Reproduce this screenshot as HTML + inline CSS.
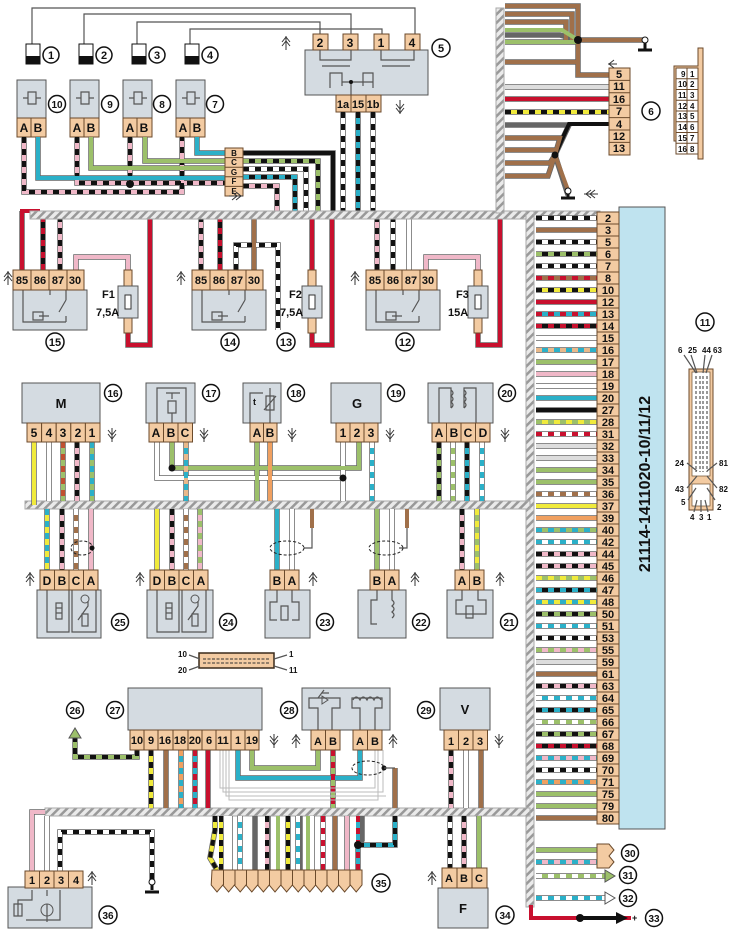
<!DOCTYPE html>
<html><head><meta charset="utf-8"><style>
html,body{margin:0;padding:0;background:#fff}
svg{display:block}
text{font-family:"Liberation Sans",sans-serif;font-weight:bold;fill:#111}
.p{fill:#f3cba2;stroke:#6b4a2b;stroke-width:1}
.bx{fill:#d4dbe1;stroke:#555;stroke-width:1}
.o{fill:none;stroke:#666;stroke-width:5.5}
.w{fill:none;stroke-width:4}
.s{fill:none;stroke-width:4;stroke-dasharray:6 6}
.t{fill:none;stroke:#555;stroke-width:1.2}
.c{fill:#fff;stroke:#111;stroke-width:1.5}
.hz{fill:url(#h);stroke:#aaa;stroke-width:1}
</style></head><body>
<svg width="739" height="932" viewBox="0 0 739 932" xmlns="http://www.w3.org/2000/svg">
<defs>
<pattern id="h" width="6" height="6" patternUnits="userSpaceOnUse" patternTransform="rotate(45)">
<rect width="6" height="6" fill="#eaeaea"/><rect width="2.5" height="6" fill="#999"/></pattern>
</defs>

<!-- top thin wires -->
<path class="t" d="M32 46V8H415V35M84 46V14H351V35M137 46V22H320V35M190 46V29H382V35"/>
<!-- items 1-4 -->
<g>
<rect x="26" y="44" width="14" height="20" fill="#fff" stroke="#111"/><rect x="26" y="56" width="14" height="8" fill="#111"/>
<rect x="79" y="44" width="14" height="20" fill="#fff" stroke="#111"/><rect x="79" y="56" width="14" height="8" fill="#111"/>
<rect x="132" y="44" width="14" height="20" fill="#fff" stroke="#111"/><rect x="132" y="56" width="14" height="8" fill="#111"/>
<rect x="185" y="44" width="14" height="20" fill="#fff" stroke="#111"/><rect x="185" y="56" width="14" height="8" fill="#111"/>
</g>
<g font-size="11">
<circle class="c" cx="51" cy="55" r="8"/><text x="51" y="59" text-anchor="middle">1</text>
<circle class="c" cx="104" cy="55" r="8"/><text x="104" y="59" text-anchor="middle">2</text>
<circle class="c" cx="157" cy="55" r="8"/><text x="157" y="59" text-anchor="middle">3</text>
<circle class="c" cx="210" cy="55" r="8"/><text x="210" y="59" text-anchor="middle">4</text>
</g>

<!-- box 5 -->
<rect class="bx" x="305" y="50" width="123" height="45"/>
<rect class="p" x="313" y="34" width="15" height="16"/><rect class="p" x="343" y="34" width="15" height="16"/>
<rect class="p" x="374" y="34" width="15" height="16"/><rect class="p" x="405" y="34" width="15" height="16"/>
<g font-size="12"><text x="320" y="47" text-anchor="middle">2</text><text x="350" y="47" text-anchor="middle">3</text><text x="381" y="47" text-anchor="middle">1</text><text x="412" y="47" text-anchor="middle">4</text></g>
<path class="t" d="M320 50v10h31V50M381 50v10h33V50M322 66h28M382 66h28M330 88V73h12v13M373 88V73h-10v13M342 82h31M351 82v13"/>
<circle cx="351" cy="82" r="2" fill="#111"/>
<rect class="p" x="336" y="95" width="15" height="17"/><rect class="p" x="351" y="95" width="15" height="17"/><rect class="p" x="366" y="95" width="15" height="17"/>
<g font-size="11"><text x="343" y="108" text-anchor="middle">1a</text><text x="358" y="108" text-anchor="middle">15</text><text x="373" y="108" text-anchor="middle">1b</text></g>
<circle class="c" cx="441" cy="48" r="9"/><text x="441" y="52" font-size="11" text-anchor="middle">5</text>

<!-- relays 10 9 8 7 -->
<g>
<rect class="bx" x="17" y="80" width="29" height="38"/><rect class="bx" x="70" y="80" width="29" height="38"/>
<rect class="bx" x="123" y="80" width="29" height="38"/><rect class="bx" x="176" y="80" width="29" height="38"/>
<path class="t" d="M23 98h5M36 98h5M28 92h8v12h-8zM76 98h5M89 98h5M81 92h8v12h-8zM129 98h5M142 98h5M134 92h8v12h-8zM182 98h5M195 98h5M187 92h8v12h-8z"/>
<rect class="p" x="17" y="118" width="14" height="19"/><rect class="p" x="31" y="118" width="15" height="19"/>
<rect class="p" x="70" y="118" width="14" height="19"/><rect class="p" x="84" y="118" width="15" height="19"/>
<rect class="p" x="123" y="118" width="14" height="19"/><rect class="p" x="137" y="118" width="15" height="19"/>
<rect class="p" x="176" y="118" width="14" height="19"/><rect class="p" x="190" y="118" width="15" height="19"/>
</g>
<g font-size="12" font-weight="normal">
<text x="24" y="132" text-anchor="middle">A</text><text x="38" y="132" text-anchor="middle">B</text>
<text x="77" y="132" text-anchor="middle">A</text><text x="91" y="132" text-anchor="middle">B</text>
<text x="130" y="132" text-anchor="middle">A</text><text x="144" y="132" text-anchor="middle">B</text>
<text x="183" y="132" text-anchor="middle">A</text><text x="197" y="132" text-anchor="middle">B</text>
</g>
<g font-size="10">
<circle class="c" cx="57" cy="104" r="8.5"/><text x="57" y="108" text-anchor="middle">10</text>
<circle class="c" cx="110" cy="104" r="8.5"/><text x="110" y="108" text-anchor="middle">9</text>
<circle class="c" cx="162" cy="104" r="8.5"/><text x="162" y="108" text-anchor="middle">8</text>
<circle class="c" cx="215" cy="104" r="8.5"/><text x="215" y="108" text-anchor="middle">7</text>
</g>

<!-- top-left wiring -->
<path class="o" d="M24 137V192H182V137M77 137V183H225M130 137V183M38 137V178H225M91 137V168H225M145 137V161H225M197 137V153H225M243 153H333V211M243 161H318V211M243 169H306V211M243 177H295V211M243 186H277V211M343 112V211M358 112V211M373 112V211"/>
<path class="w" stroke="#f0b8c8" d="M24 137V192H182V137M77 137V183H225M130 137V183M243 186H277V211"/>
<path class="s" stroke="#111" d="M24 137V192H182V137M77 137V183H225M130 137V183M243 186H277V211"/>
<path class="w" stroke="#2bb0c8" d="M38 137V178H225M197 137V153H225"/>
<path class="w" stroke="#9cc06a" d="M91 137V168H225M145 137V161H225"/>
<path class="w" stroke="#111" d="M243 153H333V211M243 161H318V211M243 177H295V211"/>
<path class="s" stroke="#9cc06a" d="M243 161H318V211"/>
<path class="s" stroke="#2bb0c8" d="M243 177H295V211"/>
<path class="w" stroke="#fff" d="M243 169H306V211M343 112V211M373 112V211"/>
<path class="s" stroke="#111" d="M243 169H306V211M343 112V211M373 112V211"/>
<path class="w" stroke="#2bb0c8" d="M358 112V211"/><path class="s" stroke="#111" d="M358 112V211"/>
<circle cx="130" cy="184" r="4" fill="#111"/>
<rect class="p" x="225" y="148" width="18" height="48"/>
<path stroke="#6b4a2b" d="M225 157.6h18M225 167.2h18M225 176.8h18M225 186.4h18"/>
<g font-size="8"><text x="234" y="156" text-anchor="middle">B</text><text x="234" y="165" text-anchor="middle">C</text><text x="234" y="175" text-anchor="middle">G</text><text x="234" y="184" text-anchor="middle">F</text><text x="234" y="194" text-anchor="middle">E</text></g>

<!-- top right area -->
<path class="o" d="M505 6H578V40M505 14H572V40M505 22H566V40M505 35H560L578 40M505 42H578M505 62H578V40M578 40H645M578 40V75H609"/>
<path class="w" stroke="#a0704a" d="M505 6H578V40M505 14H572V40M505 22H566V40M505 62H578V40M578 40H645M578 40V75H609"/>
<path class="w" stroke="#9cc06a" d="M505 30H562L578 40M505 42H578"/>
<circle cx="578" cy="40" r="4" fill="#111"/>
<path d="M645 40v10M638 50h14" stroke="#111" stroke-width="3"/><circle cx="645" cy="40" r="3" fill="#fff" stroke="#111"/>
<path class="o" d="M505 87H609M505 99H609M505 112H609M505 125H569L555 155M505 138H560L555 155M505 150H555M505 163H550L555 155M505 176H548L555 155M555 155L568 195"/>
<path class="w" stroke="#ddd" d="M505 87H609"/>
<path class="w" stroke="#c8102e" d="M505 99H609"/>
<path class="w" stroke="#f0ea3c" d="M505 112H609"/><path class="s" stroke="#111" d="M505 112H609"/>
<path class="w" stroke="#111" d="M609 124H569L555 155"/>
<path class="w" stroke="#a0704a" d="M505 138H560L555 155M505 150H555M505 163H550L555 155M505 176H548L555 155M555 155L568 190"/>
<circle cx="555" cy="155" r="3.5" fill="#111"/>
<path d="M568 190v8M561 198h14" stroke="#111" stroke-width="3"/><circle cx="568" cy="191" r="3" fill="#fff" stroke="#111"/>
<rect class="p" x="609" y="68" width="21" height="87"/>
<path stroke="#6b4a2b" d="M609 80.4h21M609 92.8h21M609 105.2h21M609 117.6h21M609 130h21M609 142.4h21"/>
<g font-size="11" font-weight="normal"><text x="619" y="78" text-anchor="middle">5</text><text x="619" y="90" text-anchor="middle">11</text><text x="619" y="103" text-anchor="middle">16</text><text x="619" y="115" text-anchor="middle">7</text><text x="619" y="128" text-anchor="middle">4</text><text x="619" y="140" text-anchor="middle">12</text><text x="619" y="152" text-anchor="middle">13</text></g>
<circle class="c" cx="651" cy="111" r="9"/><text x="651" y="115" font-size="10" text-anchor="middle">6</text>
<path d="M674 66h24v-18h5v111h-5v-18h-24z" fill="#f3cba2" stroke="#6b4a2b"/>
<rect x="676" y="68" width="22" height="86" fill="#fff" stroke="#6b4a2b"/>
<path stroke="#6b4a2b" fill="none" d="M687 68v86M676 78.7h22M676 89.5h22M676 100.2h22M676 111h22M676 121.7h22M676 132.5h22M676 143.2h22"/>
<g font-size="8" font-weight="normal"><text x="681" y="77">9</text><text x="690" y="77">1</text><text x="678" y="87">10</text><text x="690" y="87">2</text><text x="678" y="98">11</text><text x="690" y="98">3</text><text x="678" y="109">12</text><text x="690" y="109">4</text><text x="678" y="119">13</text><text x="690" y="119">5</text><text x="678" y="130">14</text><text x="690" y="130">6</text><text x="678" y="141">15</text><text x="690" y="141">7</text><text x="678" y="152">16</text><text x="690" y="152">8</text></g>

<!-- relays row wiring -->
<path class="o" d="M22 270V211M43 270V219M60 270V219M76 270V257H128V272M128 330V345H150V219M201 270V219M220 270V219M236 270V245H278V330M254 270V219M312 270V219M312 330V345H332V219M377 270V219M393 270V219M409 270V219M426 270V257H478V272M478 330V345H500V219"/>
<path class="w" stroke="#c8102e" d="M22 270V211H40M128 330V345H150V219M312 270V219M312 330V345H332V219M478 330V345H500V219"/>
<path class="w" stroke="#111" d="M43 270V219M220 270V219"/><path class="s" stroke="#c8102e" d="M43 270V219M220 270V219"/>
<path class="w" stroke="#f0b8c8" d="M60 270V219M201 270V219M377 270V219M76 270V257H128V272M426 270V257H478V272"/>
<path class="s" stroke="#111" d="M60 270V219M201 270V219M377 270V219"/>
<path class="w" stroke="#fff" d="M236 270V245H278V330M393 270V219M409 270V219"/><path class="s" stroke="#111" d="M236 270V245H278V330M393 270V219"/>
<path class="w" stroke="#a0704a" d="M254 270V219"/>

<!-- harnesses -->
<rect class="hz" x="30" y="211" width="570" height="8"/>
<rect class="hz" x="496" y="8" width="8" height="205"/>
<rect class="hz" x="526" y="211" width="8" height="696"/>
<rect class="hz" x="25" y="501" width="505" height="8"/>
<rect class="hz" x="45" y="808" width="485" height="8"/>

<!-- relays 15 14 12 -->
<g>
<rect class="bx" x="13" y="290" width="74" height="40"/><rect class="bx" x="192" y="290" width="74" height="40"/><rect class="bx" x="366" y="290" width="74" height="40"/>
<path class="t" d="M23 290v32h16M39 316h10M33 312h10v8h-10zM50 290v5M66 290v10M66 300l-7 12M66 322v-6M66 322h-27M202 290v32h16M218 316h10M212 312h10v8h-10zM229 290v5M245 290v10M245 300l-7 12M245 322v-6M245 322h-27M376 290v32h16M392 316h10M386 312h10v8h-10zM403 290v5M419 290v10M419 300l-7 12M419 322v-6M419 322h-27"/>
<rect class="p" x="13" y="270" width="18" height="20"/><rect class="p" x="31" y="270" width="18" height="20"/><rect class="p" x="49" y="270" width="18" height="20"/><rect class="p" x="67" y="270" width="17" height="20"/>
<rect class="p" x="192" y="270" width="18" height="20"/><rect class="p" x="210" y="270" width="18" height="20"/><rect class="p" x="228" y="270" width="18" height="20"/><rect class="p" x="246" y="270" width="17" height="20"/>
<rect class="p" x="366" y="270" width="18" height="20"/><rect class="p" x="384" y="270" width="18" height="20"/><rect class="p" x="402" y="270" width="18" height="20"/><rect class="p" x="420" y="270" width="17" height="20"/>
</g>
<g font-size="11" font-weight="normal">
<text x="22" y="284" text-anchor="middle">85</text><text x="40" y="284" text-anchor="middle">86</text><text x="58" y="284" text-anchor="middle">87</text><text x="75" y="284" text-anchor="middle">30</text>
<text x="201" y="284" text-anchor="middle">85</text><text x="219" y="284" text-anchor="middle">86</text><text x="237" y="284" text-anchor="middle">87</text><text x="254" y="284" text-anchor="middle">30</text>
<text x="375" y="284" text-anchor="middle">85</text><text x="393" y="284" text-anchor="middle">86</text><text x="411" y="284" text-anchor="middle">87</text><text x="428" y="284" text-anchor="middle">30</text>
</g>
<!-- fuses -->
<g>
<rect class="p" x="124" y="270" width="8" height="16"/><rect class="p" x="124" y="318" width="8" height="15"/><rect class="bx" x="118" y="286" width="20" height="32"/><rect x="125" y="295" width="6" height="14" fill="#fff" stroke="#333"/>
<rect class="p" x="308" y="270" width="8" height="16"/><rect class="p" x="308" y="318" width="8" height="15"/><rect class="bx" x="302" y="286" width="20" height="32"/><rect x="309" y="295" width="6" height="14" fill="#fff" stroke="#333"/>
<rect class="p" x="474" y="270" width="8" height="16"/><rect class="p" x="474" y="318" width="8" height="15"/><rect class="bx" x="468" y="286" width="20" height="32"/><rect x="475" y="295" width="6" height="14" fill="#fff" stroke="#333"/>
</g>
<g font-size="11" font-weight="normal">
<text x="102" y="298">F1</text><text x="96" y="316">7,5A</text>
<text x="289" y="298">F2</text><text x="280" y="316">7,5A</text>
<text x="456" y="298">F3</text><text x="448" y="316">15A</text>
</g>
<g font-size="11">
<circle class="c" cx="55" cy="342" r="9"/><text x="55" y="346" text-anchor="middle">15</text>
<circle class="c" cx="230" cy="342" r="9"/><text x="230" y="346" text-anchor="middle">14</text>
<circle class="c" cx="286" cy="342" r="9"/><text x="286" y="346" text-anchor="middle">13</text>
<circle class="c" cx="405" cy="342" r="9"/><text x="405" y="346" text-anchor="middle">12</text>
</g>

<!-- sensor row wires (above H2) -->
<path class="o" d="M34 442V505M49 442V501M63 442V501M77 442V501M92 442V501M157 442V478H343M172 442V468H359V442M186 442V501M257 442V501M270 442V501M343 442V501M372 442V501M439 442V501M453 442V501M467 442V501M482 442V501"/>
<path class="w" stroke="#f0ea3c" d="M34 442V505"/>
<path class="w" stroke="#fff" d="M49 442V501M157 442V478H343M343 442V501"/>
<path class="w" stroke="#9cc06a" d="M63 442V501M92 442V501M172 442V468H359V442M257 442V501M439 442V501M453 442V501"/>
<path class="s" stroke="#c05030" d="M63 442V501"/><path class="s" stroke="#2bb0c8" d="M92 442V501"/>
<path class="s" stroke="#111" d="M439 442V501"/><path class="s" stroke="#fff" d="M453 442V501"/>
<path class="w" stroke="#f0b8c8" d="M77 442V501"/><path class="s" stroke="#111" d="M77 442V501"/>
<path class="w" stroke="#2bb0c8" d="M186 442V501M372 442V501M467 442V501M482 442V501"/>
<path class="s" stroke="#e8b88a" d="M186 442V501"/><path class="s" stroke="#fff" d="M372 442V501M482 442V501"/><path class="s" stroke="#111" d="M467 442V501"/>
<path class="w" stroke="#f0a060" d="M270 442V501"/>
<circle cx="172" cy="468" r="3.5" fill="#111"/><circle cx="343" cy="478" r="3.5" fill="#111"/>

<!-- sensors row boxes -->
<rect class="bx" x="22" y="383" width="78" height="40"/>
<rect class="bx" x="146" y="383" width="49" height="40"/>
<rect class="bx" x="243" y="383" width="38" height="40"/>
<rect class="bx" x="331" y="383" width="50" height="40"/>
<rect class="bx" x="428" y="383" width="65" height="40"/>
<text x="61" y="408" font-size="13" text-anchor="middle">M</text>
<text x="357" y="408" font-size="13" text-anchor="middle">G</text>
<path class="t" d="M157 423V388H186V423M166 393h14M172 393v6M168 401h8v12h-8zM172 413v10"/>
<path class="t" d="M250 423V393h13M270 423V388M266 396h8v14h-8zM264 410l12-14"/>
<text x="253" y="405" font-size="9">t</text>
<path class="t" d="M439 423V388h12v20M476 423V388h-12v20M451 390q4 3 0 6q4 3 0 6q4 3 0 6M464 390q4 3 0 6q4 3 0 6q4 3 0 6"/>
<g>
<rect class="p" x="27" y="423" width="14.6" height="19"/><rect class="p" x="41.6" y="423" width="14.6" height="19"/><rect class="p" x="56.2" y="423" width="14.6" height="19"/><rect class="p" x="70.8" y="423" width="14.6" height="19"/><rect class="p" x="85.4" y="423" width="14.6" height="19"/>
<rect class="p" x="149" y="423" width="14.5" height="19"/><rect class="p" x="163.5" y="423" width="14.5" height="19"/><rect class="p" x="178" y="423" width="14.5" height="19"/>
<rect class="p" x="250" y="423" width="13.5" height="19"/><rect class="p" x="263.5" y="423" width="13.5" height="19"/>
<rect class="p" x="336" y="423" width="14" height="19"/><rect class="p" x="350" y="423" width="14" height="19"/><rect class="p" x="364" y="423" width="14" height="19"/>
<rect class="p" x="432" y="423" width="14.5" height="19"/><rect class="p" x="446.5" y="423" width="14.5" height="19"/><rect class="p" x="461" y="423" width="14.5" height="19"/><rect class="p" x="475.5" y="423" width="14.5" height="19"/>
</g>
<g font-size="12" font-weight="normal">
<text x="34" y="437" text-anchor="middle">5</text><text x="49" y="437" text-anchor="middle">4</text><text x="63" y="437" text-anchor="middle">3</text><text x="78" y="437" text-anchor="middle">2</text><text x="92" y="437" text-anchor="middle">1</text>
<text x="156" y="437" text-anchor="middle">A</text><text x="171" y="437" text-anchor="middle">B</text><text x="185" y="437" text-anchor="middle">C</text>
<text x="257" y="437" text-anchor="middle">A</text><text x="270" y="437" text-anchor="middle">B</text>
<text x="343" y="437" text-anchor="middle">1</text><text x="357" y="437" text-anchor="middle">2</text><text x="371" y="437" text-anchor="middle">3</text>
<text x="439" y="437" text-anchor="middle">A</text><text x="454" y="437" text-anchor="middle">B</text><text x="468" y="437" text-anchor="middle">C</text><text x="483" y="437" text-anchor="middle">D</text>
</g>
<g font-size="10">
<circle class="c" cx="113" cy="393" r="8.5"/><text x="113" y="397" text-anchor="middle">16</text>
<circle class="c" cx="211" cy="393" r="8.5"/><text x="211" y="397" text-anchor="middle">17</text>
<circle class="c" cx="296" cy="393" r="8.5"/><text x="296" y="397" text-anchor="middle">18</text>
<circle class="c" cx="396" cy="393" r="8.5"/><text x="396" y="397" text-anchor="middle">19</text>
<circle class="c" cx="507" cy="393" r="8.5"/><text x="507" y="397" text-anchor="middle">20</text>
</g>

<!-- lower sensors wires -->
<path class="o" d="M47 509V570M62 509V570M76 509V570M91 509V570M157 509V570M172 509V570M186 509V570M200 509V570M277 509V570M292 509V570M377 509V570M392 509V570M462 509V570M477 509V570"/>
<path class="w" stroke="#f0ea3c" d="M47 509V570M157 509V570"/><path class="s" stroke="#2bb0c8" d="M47 509V570"/>
<path class="w" stroke="#f0b8c8" d="M62 509V570M91 509V570M172 509V570M200 509V570M462 509V570"/>
<path class="s" stroke="#111" d="M62 509V570M172 509V570M462 509V570"/><path class="s" stroke="#9cc06a" d="M200 509V570"/>
<path class="w" stroke="#a0704a" d="M76 509V570M186 509V570"/><path class="s" stroke="#fff" d="M76 509V570M186 509V570"/>
<path class="w" stroke="#2bb0c8" d="M277 509V570"/>
<path class="w" stroke="#fff" d="M292 509V570M392 509V570"/>
<path class="w" stroke="#9cc06a" d="M377 509V570M477 509V570"/><path class="s" stroke="#f0ea3c" d="M477 509V570"/>
<path class="w" stroke="#a0704a" d="M312 509V528M407 509V528"/><path class="t" d="M312 528V548h-8M407 528V548h-8"/>
<g fill="none" stroke="#222" stroke-dasharray="3 2"><ellipse cx="82" cy="548" rx="11" ry="7"/><ellipse cx="287" cy="548" rx="17" ry="7"/><ellipse cx="386" cy="548" rx="17" ry="7"/></g>
<circle cx="92" cy="548" r="2.5" fill="#111"/>
<!-- lower sensors -->
<g>
<rect class="bx" x="37" y="590" width="64" height="48"/><rect class="bx" x="147" y="590" width="66" height="48"/>
<rect class="bx" x="265" y="590" width="45" height="48"/><rect class="bx" x="358" y="590" width="48" height="48"/><rect class="bx" x="447" y="590" width="46" height="48"/>
<path class="t" d="M47 590v42h22V590M72 590v42h24V590M56 603h6v16h-6zM56 608h6M56 613h6M78 620l10-14v-5M82 614h6v12h-6zM157 590v42h22V590M182 590v42h24V590M166 603h6v16h-6zM166 608h6M166 613h6M188 620l10-14v-5M192 614h6v12h-6zM277 590v12h-7v18h7M292 590v12h7v18h-7M281 606h7v14h-7zM377 590v10h-6v24h6M392 590v10q4 3 0 6q4 3 0 6q4 3 0 6M462 590v10h-6v14h30v-14h-8v-10M466 606h7v12h-7z"/>
<circle cx="85" cy="599" r="4" fill="none" stroke="#555"/><circle cx="195" cy="599" r="4" fill="none" stroke="#555"/>
<rect class="p" x="40" y="570" width="14.5" height="20"/><rect class="p" x="54.5" y="570" width="14.5" height="20"/><rect class="p" x="69" y="570" width="14.5" height="20"/><rect class="p" x="83.5" y="570" width="14.5" height="20"/>
<rect class="p" x="150" y="570" width="14.5" height="20"/><rect class="p" x="164.5" y="570" width="14.5" height="20"/><rect class="p" x="179" y="570" width="14.5" height="20"/><rect class="p" x="193.5" y="570" width="14.5" height="20"/>
<rect class="p" x="270" y="570" width="14.5" height="20"/><rect class="p" x="284.5" y="570" width="14.5" height="20"/>
<rect class="p" x="370" y="570" width="14.5" height="20"/><rect class="p" x="384.5" y="570" width="14.5" height="20"/>
<rect class="p" x="455" y="570" width="14.5" height="20"/><rect class="p" x="469.5" y="570" width="14.5" height="20"/>
</g>
<g font-size="12" font-weight="normal">
<text x="47" y="585" text-anchor="middle">D</text><text x="62" y="585" text-anchor="middle">B</text><text x="76" y="585" text-anchor="middle">C</text><text x="91" y="585" text-anchor="middle">A</text>
<text x="157" y="585" text-anchor="middle">D</text><text x="172" y="585" text-anchor="middle">B</text><text x="186" y="585" text-anchor="middle">C</text><text x="201" y="585" text-anchor="middle">A</text>
<text x="277" y="585" text-anchor="middle">B</text><text x="292" y="585" text-anchor="middle">A</text>
<text x="377" y="585" text-anchor="middle">B</text><text x="392" y="585" text-anchor="middle">A</text>
<text x="462" y="585" text-anchor="middle">A</text><text x="477" y="585" text-anchor="middle">B</text>
</g>
<g font-size="10">
<circle class="c" cx="120" cy="622" r="8.5"/><text x="120" y="626" text-anchor="middle">25</text>
<circle class="c" cx="228" cy="622" r="8.5"/><text x="228" y="626" text-anchor="middle">24</text>
<circle class="c" cx="325" cy="622" r="8.5"/><text x="325" y="626" text-anchor="middle">23</text>
<circle class="c" cx="421" cy="622" r="8.5"/><text x="421" y="626" text-anchor="middle">22</text>
<circle class="c" cx="509" cy="622" r="8.5"/><text x="509" y="626" text-anchor="middle">21</text>
</g>

<!-- small connector -->
<rect x="199" y="653" width="75" height="15" fill="#f3cba2" stroke="#3a2a1a" stroke-width="1.5"/>
<path stroke="#333" stroke-dasharray="3 1.5" d="M203 659h67M203 663h67"/>
<g font-size="8"><text x="178" y="657">10</text><text x="178" y="673">20</text><text x="289" y="657">1</text><text x="289" y="673">11</text></g>
<path class="t" d="M189 655l11 4M189 670l11-4M287 655l-13 4M287 670l-13-4"/>

<!-- bottom wires above H3 -->
<path class="o" d="M137 750V757H75V736M151 750V808M166 750V808M181 750V808M195 750V808M208 750V808M238 750V778H360V750M252 750V768H318V750M333 750V808M451 750V808M466 750V808M481 750V808M395 768V808"/>
<path class="w" stroke="#9cc06a" d="M137 750V757H75V736M252 750V768H318V750"/><path class="s" stroke="#111" d="M137 750V757H75V736"/>
<path d="M69 738l6-10l6 10z" fill="#9cc06a" stroke="#555"/>
<path class="w" stroke="#f0ea3c" d="M151 750V808"/><path class="s" stroke="#111" d="M151 750V808"/>
<path class="w" stroke="#a0704a" d="M166 750V808M481 750V808M395 768V808"/>
<path class="w" stroke="#2bb0c8" d="M181 750V808M195 750V808M238 750V778H360V750"/>
<path class="s" stroke="#f0a060" d="M181 750V808"/><path class="s" stroke="#c8102e" d="M195 750V808"/>
<path class="w" stroke="#c8102e" d="M208 750V808"/>
<path class="w" stroke="#9cc06a" d="M333 750V808"/><path class="s" stroke="#c8102e" d="M333 750V808"/>
<path class="w" stroke="#f0b8c8" d="M451 750V808"/><path class="s" stroke="#111" d="M451 750V808"/>
<path class="w" stroke="#fff" d="M466 750V808"/>
<path fill="none" stroke="#bbb" d="M223 750V792H383V750M226 750V796H386M229 750V800H378V750M220 750V788H375V750"/>
<ellipse cx="368" cy="768" rx="16" ry="7" fill="none" stroke="#222" stroke-dasharray="3 2"/><circle cx="384" cy="768" r="2.5" fill="#111"/>
<path class="t" d="M384 768h11"/>

<!-- 27 28 29 -->
<rect class="bx" x="128" y="688" width="134" height="42"/>
<rect class="bx" x="302" y="688" width="88" height="42"/>
<rect class="bx" x="440" y="688" width="50" height="42"/>
<text x="465" y="714" font-size="13" text-anchor="middle">V</text>
<path class="t" d="M318 730V708h-9v-10h31v10h-8v22M318 698l6-8M322 693h7M360 730V708h-8v-10h30v10h-7v22M353 700q3-6 7 0q3-6 7 0q3-6 7 0q3-6 7 0"/>
<path d="M322 696l6 4l-6 4z" fill="none" stroke="#555"/>
<g>
<rect class="p" x="130" y="730" width="14" height="20"/><rect class="p" x="144" y="730" width="14" height="20"/><rect class="p" x="158" y="730" width="15" height="20"/><rect class="p" x="173" y="730" width="15" height="20"/><rect class="p" x="188" y="730" width="14" height="20"/><rect class="p" x="202" y="730" width="14" height="20"/><rect class="p" x="216" y="730" width="15" height="20"/><rect class="p" x="231" y="730" width="14" height="20"/><rect class="p" x="245" y="730" width="14" height="20"/>
<rect class="p" x="311" y="730" width="14.5" height="20"/><rect class="p" x="325.5" y="730" width="14.5" height="20"/><rect class="p" x="353" y="730" width="14.5" height="20"/><rect class="p" x="367.5" y="730" width="14.5" height="20"/>
<rect class="p" x="444" y="730" width="14.5" height="20"/><rect class="p" x="458.5" y="730" width="14.5" height="20"/><rect class="p" x="473" y="730" width="14.5" height="20"/>
</g>
<g font-size="11" font-weight="normal">
<text x="137" y="744" text-anchor="middle">10</text><text x="151" y="744" text-anchor="middle">9</text><text x="165" y="744" text-anchor="middle">16</text><text x="180" y="744" text-anchor="middle">18</text><text x="195" y="744" text-anchor="middle">20</text><text x="209" y="744" text-anchor="middle">6</text><text x="223" y="744" text-anchor="middle">11</text><text x="238" y="744" text-anchor="middle">1</text><text x="252" y="744" text-anchor="middle">19</text>
<text x="318" y="745" text-anchor="middle">A</text><text x="333" y="745" text-anchor="middle">B</text><text x="360" y="745" text-anchor="middle">A</text><text x="375" y="745" text-anchor="middle">B</text>
<text x="451" y="745" text-anchor="middle">1</text><text x="466" y="745" text-anchor="middle">2</text><text x="480" y="745" text-anchor="middle">3</text>
</g>
<g font-size="10">
<circle class="c" cx="75" cy="710" r="8.5"/><text x="75" y="714" text-anchor="middle">26</text>
<circle class="c" cx="115" cy="710" r="8.5"/><text x="115" y="714" text-anchor="middle">27</text>
<circle class="c" cx="289" cy="710" r="8.5"/><text x="289" y="714" text-anchor="middle">28</text>
<circle class="c" cx="426" cy="710" r="8.5"/><text x="426" y="714" text-anchor="middle">29</text>
</g>

<!-- below H3 -->
<path class="o" d="M32 873V812H45M47 873V816M60 873V832H152V880M215 816V830L210 858L217 870M226 816V870M230 816V870M240 816V870M255 816V870M268 816V870M288 816V870M298 816V870M300 816V870M312 816V870M323 816V870M335 816V870M347 816V870M362 816V840L358 845V870M360 816V845H395V816M450 816V868M464 816V868M479 816V868"/>
<path class="w" stroke="#f0b8c8" d="M32 873V812H45M267 816V870M347 816V870M464 816V868"/>
<path class="w" stroke="#fff" d="M47 873V816M226 816V870M230 816V870M312 816V870M450 816V868"/>
<path class="w" stroke="#111" d="M60 873V832H152V880"/><path class="s" stroke="#fff" d="M60 873V832H152V880"/>
<path class="w" stroke="#f0ea3c" d="M215 816V830L210 858L217 870M221 816V870M288 816V870"/><path class="s" stroke="#111" d="M215 816V830L210 858L217 870M221 816V870M288 816V870M267 816V870M278 816V870M450 816V868M464 816V868"/>
<path class="w" stroke="#2bb0c8" d="M240 816V870M298 816V870M358 816V870M358 845H395V816"/><path class="s" stroke="#fff" d="M240 816V870M298 816V870"/><path class="s" stroke="#c8102e" d="M358 816V870"/><path class="s" stroke="#111" d="M358 845H395V816"/>
<path class="w" stroke="#9cc06a" d="M278 816V870M308 816V870M479 816V868"/>
<path class="w" stroke="#fff" d="M323 816V870"/><path class="s" stroke="#c8102e" d="M323 816V870"/>
<path class="w" stroke="#a0704a" d="M335 816V870"/>
<circle cx="358" cy="845" r="4" fill="#111"/>
<path d="M152 880v10M145 892h14" stroke="#111" stroke-width="3"/><circle cx="152" cy="882" r="3" fill="#fff" stroke="#111"/>
<path d="M212 870h150v15l-5.8 7l-5.8-7l-5.8 7l-5.8-7l-5.8 7l-5.8-7l-5.8 7l-5.8-7l-5.8 7l-5.8-7l-5.8 7l-5.8-7l-5.8 7l-5.8-7l-5.8 7l-5.8-7l-5.8 7l-5.8-7l-5.8 7l-5.8-7l-5.8 7l-5.8-7l-5.8 7l-5.8-7l-5.8 7l-5.8-7z" fill="#f3cba2" stroke="#6b4a2b"/>
<path stroke="#6b4a2b" d="M223.5 870v15M235 870v15M246.5 870v15M258 870v15M269.5 870v15M281 870v15M292.5 870v15M304 870v15M315.5 870v15M327 870v15M338.5 870v15M350 870v15"/>
<circle class="c" cx="381" cy="883" r="9"/><text x="381" y="887" font-size="10" text-anchor="middle">35</text>
<!-- 36 -->
<rect class="bx" x="8" y="887" width="84" height="41"/>
<path class="t" d="M32 890v10h-14v16M47 890v6M60 890v30H26M14 904h8v12h-8zM47 904v18"/>
<circle cx="47" cy="910" r="6" fill="none" stroke="#555"/>
<rect class="p" x="25" y="871" width="14.5" height="17"/><rect class="p" x="39.5" y="871" width="14.5" height="17"/><rect class="p" x="54" y="871" width="14.5" height="17"/><rect class="p" x="68.5" y="871" width="14.5" height="17"/>
<g font-size="11" font-weight="normal"><text x="32" y="884" text-anchor="middle">1</text><text x="47" y="884" text-anchor="middle">2</text><text x="61" y="884" text-anchor="middle">3</text><text x="76" y="884" text-anchor="middle">4</text></g>
<circle class="c" cx="108" cy="915" r="9"/><text x="108" y="919" font-size="10" text-anchor="middle">36</text>
<!-- 34 -->
<rect class="bx" x="438" y="888" width="50" height="40"/><text x="463" y="913" font-size="13" text-anchor="middle">F</text>
<rect class="p" x="442" y="868" width="15" height="20"/><rect class="p" x="457" y="868" width="15" height="20"/><rect class="p" x="472" y="868" width="15" height="20"/>
<g font-size="11" font-weight="normal"><text x="449" y="882" text-anchor="middle">A</text><text x="464" y="882" text-anchor="middle">B</text><text x="479" y="882" text-anchor="middle">C</text></g>
<circle class="c" cx="505" cy="915" r="9"/><text x="505" y="919" font-size="10" text-anchor="middle">34</text>

<!-- ECU wires -->
<path class="o" d="M536 218h61M536 230h61M536 242h61M536 254h61M536 266h61M536 278h61M536 290h61M536 302h61M536 314h61M536 326h61M536 338h61M536 350h61M536 362h61M536 374h61M536 386h61M536 398h61M536 410h61M536 422h61M536 434h61M536 446h61M536 458h61M536 470h61M536 482h61M536 494h61M536 506h61M536 518h61M536 530h61M536 542h61M536 554h61M536 566h61M536 578h61M536 590h61M536 602h61M536 614h61M536 626h61M536 638h61M536 650h61M536 662h61M536 674h61M536 686h61M536 698h61M536 710h61M536 722h61M536 734h61M536 746h61M536 758h61M536 770h61M536 782h61M536 794h61M536 806h61M536 818h61M536 850h62M536 862h62M536 876h70M536 898h70"/>
<path class="w" stroke="#fff" d="M536 218h61M536 242h61M536 266h61M536 338h61M536 386h61M536 434h61M536 494h61M536 542h61M536 626h61M536 638h61M536 770h61M536 898h70"/>
<path class="w" stroke="#a0704a" d="M536 230h61M536 278h61M536 674h61M536 818h61"/>
<path class="w" stroke="#111" d="M536 254h61M536 326h61M536 410h61M536 590h61M536 746h61"/>
<path class="w" stroke="#f0ea3c" d="M536 290h61M536 422h61M536 506h61M536 602h61"/>
<path class="w" stroke="#c8102e" d="M536 302h61"/>
<path class="w" stroke="#2bb0c8" d="M536 314h61M536 350h61M536 398h61M536 698h61M536 710h61"/>
<path class="w" stroke="#9cc06a" d="M536 362h61M536 470h61M536 482h61M536 530h61M536 578h61M536 614h61M536 722h61M536 734h61M536 794h61M536 806h61M536 850h62M536 876h70"/>
<path class="w" stroke="#f0b8c8" d="M536 374h61M536 554h61M536 566h61M536 650h61M536 686h61M536 758h61M536 862h62"/>
<path class="w" stroke="#ddd" d="M536 446h61M536 458h61M536 662h61"/>
<path class="w" stroke="#f0a060" d="M536 518h61M536 782h61"/>
<path class="s" stroke="#111" d="M536 218h61M536 242h61M536 266h61M536 290h61M536 554h61M536 566h61M536 614h61M536 638h61M536 686h61M536 710h61M536 734h61M536 770h61"/>
<path class="s" stroke="#9cc06a" d="M536 254h61M536 422h61M536 650h61"/>
<path class="s" stroke="#c8102e" d="M536 278h61M536 314h61M536 326h61M536 434h61M536 746h61"/>
<path class="s" stroke="#e8b88a" d="M536 350h61"/>
<path class="s" stroke="#a0704a" d="M536 494h61"/>
<path class="s" stroke="#2bb0c8" d="M536 530h61M536 542h61M536 590h61M536 602h61M536 626h61M536 758h61M536 782h61M536 862h62M536 898h70"/>
<path class="s" stroke="#f0ea3c" d="M536 578h61"/>
<path class="s" stroke="#fff" d="M536 698h61M536 722h61M536 876h70"/>
<path d="M605 870l10 6l-10 6z" fill="#9cc06a" stroke="#555"/><path d="M605 892l10 6l-10 6z" fill="#fff" stroke="#555"/>
<path d="M597 844h12l5 6l-5 6l5 6l-5 6h-12z" fill="#f3cba2" stroke="#6b4a2b"/>
<path d="M531 905v13h100" fill="none" stroke="#c8102e" stroke-width="4"/>
<path d="M580 918h38" stroke="#111" stroke-width="4"/><path d="M616 912l12 6l-12 6z" fill="#111"/><circle cx="580" cy="918" r="4" fill="#111"/>
<text x="632" y="921" font-size="9" font-weight="normal" fill="#999">+</text>
<g font-size="10">
<circle class="c" cx="630" cy="853" r="8.5"/><text x="630" y="857" text-anchor="middle">30</text>
<circle class="c" cx="628" cy="875" r="8.5"/><text x="628" y="879" text-anchor="middle">31</text>
<circle class="c" cx="628" cy="898" r="8.5"/><text x="628" y="902" text-anchor="middle">32</text>
<circle class="c" cx="654" cy="918" r="8.5"/><text x="654" y="922" text-anchor="middle">33</text>
</g>

<!-- ECU -->
<rect x="619" y="207" width="46" height="622" fill="#bfe3ef" stroke="#555"/>
<text transform="translate(650,484) rotate(-90)" font-size="16" font-weight="normal" text-anchor="middle">21114-1411020-10/11/12</text>
<rect class="p" x="597" y="212" width="22" height="612"/>
<path stroke="#6b4a2b" d="M597 224h22M597 236h22M597 248h22M597 260h22M597 272h22M597 284h22M597 296h22M597 308h22M597 320h22M597 332h22M597 344h22M597 356h22M597 368h22M597 380h22M597 392h22M597 404h22M597 416h22M597 428h22M597 440h22M597 452h22M597 464h22M597 476h22M597 488h22M597 500h22M597 512h22M597 524h22M597 536h22M597 548h22M597 560h22M597 572h22M597 584h22M597 596h22M597 608h22M597 620h22M597 632h22M597 644h22M597 656h22M597 668h22M597 680h22M597 692h22M597 704h22M597 716h22M597 728h22M597 740h22M597 752h22M597 764h22M597 776h22M597 788h22M597 800h22M597 812h22"/>
<g font-size="11" font-weight="normal" text-anchor="middle">
<text x="608" y="222">2</text><text x="608" y="234">3</text><text x="608" y="246">5</text><text x="608" y="258">6</text><text x="608" y="270">7</text><text x="608" y="282">8</text><text x="608" y="294">10</text><text x="608" y="306">12</text><text x="608" y="318">13</text><text x="608" y="330">14</text><text x="608" y="342">15</text><text x="608" y="354">16</text><text x="608" y="366">17</text><text x="608" y="378">18</text><text x="608" y="390">19</text><text x="608" y="402">20</text><text x="608" y="414">27</text><text x="608" y="426">28</text><text x="608" y="438">31</text><text x="608" y="450">32</text><text x="608" y="462">33</text><text x="608" y="474">34</text><text x="608" y="486">35</text><text x="608" y="498">36</text><text x="608" y="510">37</text><text x="608" y="522">39</text><text x="608" y="534">40</text><text x="608" y="546">42</text><text x="608" y="558">44</text><text x="608" y="570">45</text><text x="608" y="582">46</text><text x="608" y="594">47</text><text x="608" y="606">48</text><text x="608" y="618">50</text><text x="608" y="630">51</text><text x="608" y="642">53</text><text x="608" y="654">55</text><text x="608" y="666">59</text><text x="608" y="678">61</text><text x="608" y="690">63</text><text x="608" y="702">64</text><text x="608" y="714">65</text><text x="608" y="726">66</text><text x="608" y="738">67</text><text x="608" y="750">68</text><text x="608" y="762">69</text><text x="608" y="774">70</text><text x="608" y="786">71</text><text x="608" y="798">75</text><text x="608" y="810">79</text><text x="608" y="822">80</text>
</g>

<!-- connector 11 -->
<circle class="c" cx="705" cy="322" r="9"/><text x="705" y="326" font-size="10" text-anchor="middle">11</text>
<rect x="689" y="369" width="24" height="141" fill="#f3cba2" stroke="#6b4a2b"/>
<rect x="692" y="372" width="18" height="104" fill="#fff" stroke="#6b4a2b" stroke-width=".7"/>
<rect x="692" y="484" width="18" height="22" fill="#fff" stroke="#6b4a2b" stroke-width=".7"/>
<path stroke="#333" stroke-dasharray="3 2" d="M696 376v96M700 376v96M703 376v96M707 376v96"/>
<path class="t" d="M684 355l12 18M691 355l6 18M705 355l-2 18M712 355l-6 18M687 463l10 8M717 463l-10 8M687 488l10-12M717 488l-10-12M688 500l8-12M715 500l-8-12M694 512l3-12M701 512v-12M708 512l-3-12"/>
<g font-size="8"><text x="678" y="353">6</text><text x="688" y="353">25</text><text x="702" y="353">44</text><text x="713" y="353">63</text><text x="675" y="466">24</text><text x="719" y="466">81</text><text x="675" y="492">43</text><text x="719" y="492">82</text><text x="681" y="505">5</text><text x="717" y="510">2</text><text x="690" y="520">4</text><text x="699" y="520">3</text><text x="707" y="520">1</text></g>

<!-- direction arrows -->
<g fill="none" stroke="#333" stroke-width="1">
<path d="M286 50V36M282 42l4-5l4 5M282 46l4-5l4 5"/>
<path d="M400 100v14M396 104l4 5l4-5M396 108l4 5l4-5"/>
<path d="M8 285v-14M4 277l4-5l4 5M4 281l4-5l4 5"/>
<path d="M181 285v-14M177 277l4-5l4 5M177 281l4-5l4 5"/>
<path d="M355 285v-14M351 277l4-5l4 5M351 281l4-5l4 5"/>
<path d="M112 428v14M108 430l4 5l4-5M108 434l4 5l4-5"/>
<path d="M204 428v14M200 430l4 5l4-5M200 434l4 5l4-5"/>
<path d="M292 428v14M288 430l4 5l4-5M288 434l4 5l4-5"/>
<path d="M390 428v14M386 430l4 5l4-5M386 434l4 5l4-5"/>
<path d="M505 428v14M501 430l4 5l4-5M501 434l4 5l4-5"/>
<path d="M30 586v-14M26 578l4-5l4 5M26 582l4-5l4 5"/>
<path d="M140 586v-14M136 578l4-5l4 5M136 582l4-5l4 5"/>
<path d="M313 586v-14M309 578l4-5l4 5M309 582l4-5l4 5"/>
<path d="M415 586v-14M411 578l4-5l4 5M411 582l4-5l4 5"/>
<path d="M500 586v-14M496 578l4-5l4 5M496 582l4-5l4 5"/>
<path d="M274 734v14M270 736l4 5l4-5M270 740l4 5l4-5"/>
<path d="M296 748v-14M292 740l4-5l4 5M292 744l4-5l4 5"/>
<path d="M393 748v-14M389 740l4-5l4 5M389 744l4-5l4 5"/>
<path d="M499 734v14M495 736l4 5l4-5M495 740l4 5l4-5"/>
<path d="M92 885v-14M88 877l4-5l4 5M88 881l4-5l4 5"/>
<path d="M432 885v-14M428 877l4-5l4 5M428 881l4-5l4 5"/>
<path d="M229 196h14M236 192l5 4l-5 4M232 192l5 4l-5 4"/>
<path d="M598 194h-14M591 190l-5 4l5 4M595 190l-5 4l5 4"/>
<path d="M617 64h-9M614 60l-5 4l5 4"/>
</g>
</svg>
</body></html>
